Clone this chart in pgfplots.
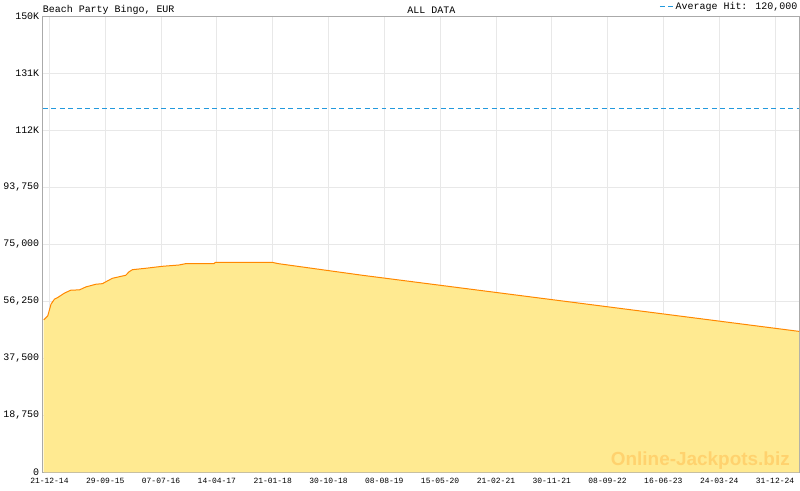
\documentclass[border=0pt]{standalone}
\usepackage{fontspec}
\setmainfont{Liberation Mono}
\newfontfamily\wmfont{Liberation Sans}
\usepackage{pgfplots}
\pgfplotsset{compat=1.18}

\definecolor{jpfill}{RGB}{255,234,145}
\definecolor{jpline}{RGB}{255,136,0}
\definecolor{gridgray}{RGB}{232,232,232}
\definecolor{axgray}{RGB}{170,170,170}
\definecolor{avgblue}{RGB}{34,153,221}
\definecolor{wmark}{RGB}{255,210,110}

\begin{document}
\begin{tikzpicture}[x=1pt,y=1pt]
\path (0,0) rectangle (800,490);
\begin{axis}[
    at={(40pt,18pt)}, anchor=south west,
    scale only axis, width=759pt, height=457pt,
    xmin=-0.12, xmax=13.43, ymin=0, ymax=150000,
    xtick={0,...,13},
    xticklabels={21-12-14,29-09-15,07-07-16,14-04-17,21-01-18,30-10-18,08-08-19,
                 15-05-20,21-02-21,30-11-21,08-09-22,16-06-23,24-03-24,31-12-24},
    minor x tick num=6,
    ytick={0,18750,37500,56250,75000,93750,112500,131250,150000},
    yticklabels={0,{18,750},{37,500},{56,250},{75,000},{93,750},112K,131K,150K},
    scaled y ticks=false,
    /pgf/number format/assume math mode=true,
    grid=major,
    major grid style={gridgray, line width=0.8pt},
    axis line style={axgray, line width=1pt},
    tick align=inside,
    xtick pos=bottom,
    x tick style={axgray, line width=0.8pt},
    major tick length=6pt, minor tick length=4pt,
    y tick style={draw=none},
    xticklabel style={font=\fontsize{8}{9}\selectfont, yshift=-2.5pt},
    yticklabel style={font=\fontsize{10}{12}\selectfont, yshift=0.5pt},
    legend style={at={(rel axis cs:1,1)}, anchor=south east, draw=none, fill=none,
                  font=\fontsize{10}{12}\selectfont, inner sep=0pt, yshift=4pt,
                  nodes={inner xsep=1.5pt}},
    legend image code/.code={\draw[#1] (0pt,0pt) -- (14pt,0pt);},
    clip=false,
]
\addplot[draw=none, fill=jpfill, forget plot] coordinates {
    (-0.102,50200) (-0.03,51500) (0.029,55370) (0.089,57000) (0.148,57550)
    (0.268,59000) (0.386,60000) (0.536,60060) (0.654,61050) (0.832,61930)
    (0.952,62130) (0.982,62460) (1.13,63900) (1.368,64890) (1.429,66070)
    (1.488,66730) (1.725,67190) (2.023,67840) (2.321,68270) (2.439,68700)
    (2.946,68700) (2.975,69150) (3.988,69150) (4.107,68700) (5.6,64900)
    (13.434,46400)
} \closedcycle;
\addplot[jpline, line width=1pt, forget plot] coordinates {
    (-0.102,50200) (-0.03,51500) (0.029,55370) (0.089,57000) (0.148,57550)
    (0.268,59000) (0.386,60000) (0.536,60060) (0.654,61050) (0.832,61930)
    (0.952,62130) (0.982,62460) (1.13,63900) (1.368,64890) (1.429,66070)
    (1.488,66730) (1.725,67190) (2.023,67840) (2.321,68270) (2.439,68700)
    (2.946,68700) (2.975,69150) (3.988,69150) (4.107,68700) (5.6,64900)
    (13.434,46400)
};
\addplot[avgblue, line width=0.7pt, dash pattern=on 5pt off 3.5pt] coordinates {
    (-0.12,120000) (13.43,120000)
};
\addlegendentry{Average Hit: 120,000}
\node[anchor=base east, font=\wmfont\bfseries\fontsize{19}{20}\selectfont, text=wmark, inner sep=0pt]
    at (rel axis cs:0.988,0.0153) {Online-Jackpots.biz};
\end{axis}
\node[anchor=west, inner sep=0pt, font=\fontsize{10}{12}\selectfont] at (40,482) {Beach Party Bingo, EUR};
\node[inner sep=0pt, font=\fontsize{10}{12}\selectfont] at (430,482) {ALL DATA};
\end{tikzpicture}
\end{document}
